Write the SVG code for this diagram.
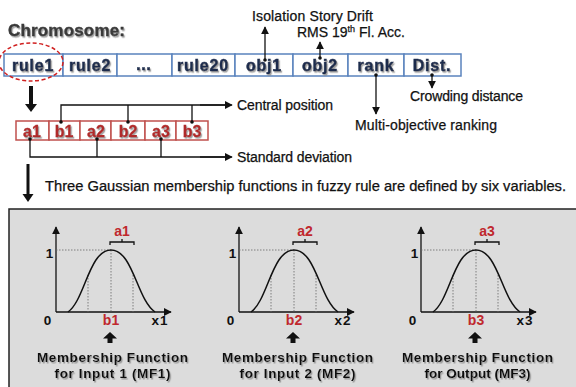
<svg xmlns="http://www.w3.org/2000/svg" width="576" height="387" viewBox="0 0 576 387">
<style>
.lbl{font-family:"Liberation Sans",Arial,sans-serif;font-size:14px;fill:#111;stroke:#111;stroke-width:0.25}
.chr{font-family:"Liberation Sans",Arial,sans-serif;font-weight:bold;font-size:16px;fill:#1f2d4d;stroke:#1f2d4d;stroke-width:0.5;text-anchor:middle;letter-spacing:0.8px}
.gene{font-family:"Liberation Sans",Arial,sans-serif;font-weight:bold;font-size:16px;fill:#b02a2a;stroke:#b02a2a;stroke-width:0.3;text-anchor:middle}
.bold{font-family:"Liberation Sans",Arial,sans-serif;font-weight:bold;font-size:13.5px;fill:#111;text-anchor:middle;letter-spacing:1px}
.red{font-family:"Liberation Sans",Arial,sans-serif;font-weight:bold;font-size:14px;fill:#c0282d;text-anchor:middle}
.cell{fill:#fff;stroke:#5a83bd;stroke-width:1.5}
.gcell{fill:#fff;stroke:#c0504d;stroke-width:1.5}
.ln{fill:none;stroke:#111;stroke-width:1.3}
.dot{fill:none;stroke:#666;stroke-width:0.8;stroke-dasharray:1.5 1.5}
.curve{fill:none;stroke:#111;stroke-width:1.5}
</style>
<defs>
<marker id="ah" viewBox="0 0 10 10" refX="9" refY="5" markerWidth="6" markerHeight="6" orient="auto-start-reverse"><path d="M0,0 L10,5 L0,10 z" fill="#111"/></marker>
<filter id="sh" x="-10%" y="-20%" width="130%" height="150%"><feDropShadow dx="1.2" dy="1.5" stdDeviation="0.6" flood-color="#888" flood-opacity="0.8"/></filter>
</defs>

<g id="title"><text x="8" y="36" font-family="Liberation Sans,Arial,sans-serif" font-weight="bold" font-size="17" fill="#3a3a3a" stroke="#3a3a3a" stroke-width="0.4" filter="url(#sh)" textLength="117">Chromosome:</text></g>

<g id="chromosome">
<rect class="cell" x="4" y="54" width="59" height="22"/>
<rect class="cell" x="63" y="54" width="54" height="22"/>
<rect class="cell" x="117" y="54" width="55" height="22"/>
<rect class="cell" x="172" y="54" width="63" height="22"/>
<rect class="cell" x="235" y="54" width="58" height="22"/>
<rect class="cell" x="293" y="54" width="55" height="22"/>
<rect class="cell" x="348" y="54" width="56" height="22"/>
<rect class="cell" x="404" y="54" width="57" height="22"/>
<g filter="url(#sh)">
<text class="chr" x="33" y="71">rule1</text>
<text class="chr" x="90" y="71">rule2</text>
<text class="chr" x="144" y="70" fill="#777" stroke="none" font-size="10">…</text>
<text class="chr" x="203" y="71">rule20</text>
<text class="chr" x="264" y="71">obj1</text>
<text class="chr" x="320" y="71">obj2</text>
<text class="chr" x="376" y="71">rank</text>
<text class="chr" x="432" y="71">Dist.</text>
</g>
<ellipse cx="31" cy="62" rx="32" ry="19" fill="none" stroke="#d02020" stroke-width="1.5" stroke-dasharray="4 2.5"/>
</g>

<g id="genes">
<rect class="gcell" x="16" y="121" width="33" height="19"/>
<rect class="gcell" x="49" y="121" width="31" height="19"/>
<rect class="gcell" x="80" y="121" width="31" height="19"/>
<rect class="gcell" x="111" y="121" width="34" height="19"/>
<rect class="gcell" x="145" y="121" width="31" height="19"/>
<rect class="gcell" x="176" y="121" width="32" height="19"/>
<g filter="url(#sh)">
<text class="gene" x="32" y="137">a1</text>
<text class="gene" x="64" y="137">b1</text>
<text class="gene" x="96" y="137">a2</text>
<text class="gene" x="128" y="137">b2</text>
<text class="gene" x="161" y="137">a3</text>
<text class="gene" x="192" y="137">b3</text>
</g>
</g>

<g id="labels">
<text class="lbl" x="252" y="21" textLength="121">Isolation Story Drift</text>
<text class="lbl" x="297" y="37">RMS 19<tspan font-size="9" dy="-5">th</tspan><tspan dy="5"> Fl. Acc.</tspan></text>
<text class="lbl" x="410" y="101" textLength="113">Crowding distance</text>
<text class="lbl" x="355" y="130" textLength="142">Multi-objective ranking</text>
<text class="lbl" x="237" y="110" textLength="96">Central position</text>
<text class="lbl" x="237" y="162" textLength="115">Standard deviation</text>
<text class="lbl" x="45" y="191" textLength="521" lengthAdjust="spacingAndGlyphs">Three Gaussian membership functions in fuzzy rule are defined by six variables.</text>
</g>

<g id="connectors">
<line class="ln" x1="265" y1="60" x2="265" y2="27" marker-end="url(#ah)"/>
<circle cx="265" cy="60" r="1.8" fill="#111"/>
<line class="ln" x1="320" y1="58" x2="320" y2="42" marker-end="url(#ah)"/>
<circle cx="320" cy="58" r="1.8" fill="#111"/>
<line class="ln" x1="376" y1="75" x2="376" y2="114" marker-end="url(#ah)"/>
<circle cx="376" cy="75" r="1.8" fill="#111"/>
<line class="ln" x1="432" y1="75" x2="432" y2="88" marker-end="url(#ah)"/>
<circle cx="432" cy="75" r="1.8" fill="#111"/>
<path class="ln" d="M61,122 V105 H230 M128,122 V105 M192,122 V105"/>
<line class="ln" x1="200" y1="105" x2="232" y2="105" marker-end="url(#ah)"/>
<circle cx="61" cy="122" r="1.8" fill="#111"/><circle cx="128" cy="122" r="1.8" fill="#111"/><circle cx="192" cy="122" r="1.8" fill="#111"/>
<path class="ln" d="M30,139 V157 H230 M97,139 V157 M161,139 V157"/>
<line class="ln" x1="200" y1="157" x2="232" y2="157" marker-end="url(#ah)"/>
<circle cx="30" cy="139" r="1.8" fill="#111"/><circle cx="97" cy="139" r="1.8" fill="#111"/><circle cx="161" cy="139" r="1.8" fill="#111"/>
<path d="M29,86 h4 v18 h4 l-6,8 l-6,-8 h4 z" fill="#111"/>
<path d="M26.5,164 h3 v30 h4 l-5.5,8 l-5.5,-8 h4 z" fill="#111"/>
</g>

<g id="panel">
<rect x="9" y="209" width="575" height="200" fill="#dcdcdc" stroke="#222" stroke-width="1.5"/>
</g>

<g id="mf1">
<line class="ln" x1="56" y1="312" x2="56" y2="227" marker-end="url(#ah)"/>
<line class="ln" x1="56" y1="312" x2="171" y2="312" marker-end="url(#ah)"/>
<path class="dot" d="M56,250 H111 M111,250 V312 M88,275 V312 M133,275 V312"/>
<path class="curve" d="M68,312 C85,300 89,250 111,250 C133,250 137,300 155,312"/>
<path class="ln" stroke-width="1" d="M110,245 V242 H134 V245 M122,242 V239"/>
<text class="red" x="122" y="236">a1</text>
<text class="bold" x="50" y="258" letter-spacing="0">1</text>
<text class="bold" x="48" y="325" letter-spacing="0">0</text>
<text class="red" x="111" y="325">b1</text>
<text class="bold" x="160" y="325" letter-spacing="0">x1</text>
<path d="M107.5,343 v-4.5 h-4.5 l7,-6.5 l7,6.5 h-4.5 v4.5 z" fill="#111"/>
<g filter="url(#sh)">
<text class="bold" x="113" y="362" textLength="152">Membership Function</text>
<text class="bold" x="113" y="378" textLength="117">for Input 1 (MF1)</text>
</g>
</g>

<g id="mf2" transform="translate(183,0)">
<line class="ln" x1="56" y1="312" x2="56" y2="227" marker-end="url(#ah)"/>
<line class="ln" x1="56" y1="312" x2="171" y2="312" marker-end="url(#ah)"/>
<path class="dot" d="M56,250 H111 M111,250 V312 M88,275 V312 M133,275 V312"/>
<path class="curve" d="M68,312 C85,300 89,250 111,250 C133,250 137,300 155,312"/>
<path class="ln" stroke-width="1" d="M110,245 V242 H134 V245 M122,242 V239"/>
<text class="red" x="122" y="236">a2</text>
<text class="bold" x="50" y="258" letter-spacing="0">1</text>
<text class="bold" x="48" y="325" letter-spacing="0">0</text>
<text class="red" x="111" y="325">b2</text>
<text class="bold" x="160" y="325" letter-spacing="0">x2</text>
<path d="M107.5,343 v-4.5 h-4.5 l7,-6.5 l7,6.5 h-4.5 v4.5 z" fill="#111"/>
<g filter="url(#sh)">
<text class="bold" x="115" y="362" textLength="152">Membership Function</text>
<text class="bold" x="115" y="378" textLength="117">for Input 2 (MF2)</text>
</g>
</g>

<g id="mf3" transform="translate(365,0)">
<line class="ln" x1="56" y1="312" x2="56" y2="227" marker-end="url(#ah)"/>
<line class="ln" x1="56" y1="312" x2="171" y2="312" marker-end="url(#ah)"/>
<path class="dot" d="M56,250 H111 M111,250 V312 M88,275 V312 M133,275 V312"/>
<path class="curve" d="M68,312 C85,300 89,250 111,250 C133,250 137,300 155,312"/>
<path class="ln" stroke-width="1" d="M110,245 V242 H134 V245 M122,242 V239"/>
<text class="red" x="122" y="236">a3</text>
<text class="bold" x="50" y="258" letter-spacing="0">1</text>
<text class="bold" x="48" y="325" letter-spacing="0">0</text>
<text class="red" x="111" y="325">b3</text>
<text class="bold" x="160" y="325" letter-spacing="0">x3</text>
<path d="M107.5,343 v-4.5 h-4.5 l7,-6.5 l7,6.5 h-4.5 v4.5 z" fill="#111"/>
<g filter="url(#sh)">
<text class="bold" x="113" y="362" textLength="152">Membership Function</text>
<text class="bold" x="113" y="378" textLength="107">for Output (MF3)</text>
</g>
</g>
</svg>
